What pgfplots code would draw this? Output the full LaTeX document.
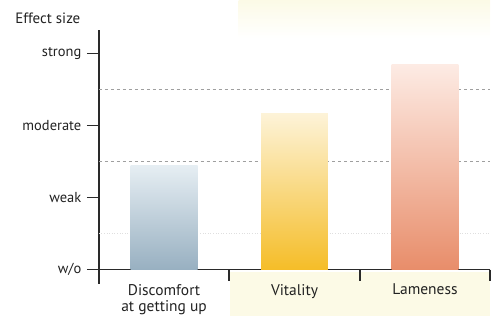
\documentclass[border=0pt]{standalone}
\usepackage{pgfplots}
\pgfplotsset{compat=1.18}
\usepackage{fontspec}
\setmainfont{PT Sans}
\definecolor{txt}{HTML}{222222}
\definecolor{axc}{HTML}{2A2A2A}
\definecolor{cream}{HTML}{FCFAE6}
\definecolor{blueT}{HTML}{E6EEF3}
\definecolor{blueB}{HTML}{98B0C1}
\definecolor{yelT}{HTML}{FDF3D8}
\definecolor{yelB}{HTML}{F5BD28}
\definecolor{redT}{HTML}{FDEBE4}
\definecolor{redB}{HTML}{E88D6A}
\begin{document}
\begin{tikzpicture}
% paper tint
\fill[cream] (131pt,-47pt) rectangle (392pt,-2pt);
\shade[top color=cream, bottom color=white] (140pt,232pt) rectangle (392pt,270pt);
\begin{axis}[
  scale only axis,
  width=392pt, height=240pt,
  xmin=0, xmax=3, ymin=0, ymax=3.33,
  axis x line=bottom, axis y line=left,
  axis line style={-, draw=axc, line width=1.6pt},
  clip=false,
  xtick={0.5,1.5,2.5},
  xticklabels={{Discomfort\\at getting up},{Vitality},{Lameness}},
  xticklabel style={align=center, font=\fontsize{15.5}{16}\selectfont, text=txt, yshift=1pt},
  xtick style={draw=none},
  ytick={0,1,2,3},
  yticklabels={w/o,weak,moderate,strong},
  yticklabel style={font=\fontsize{14.5}{15}\selectfont, text=txt, xshift=-2pt},
  ytick style={draw=axc, line width=1.6pt},
  tick align=outside,
  major tick length=12pt,
  ylabel={Effect size},
  ylabel style={rotate=-90, at={(axis description cs:0,1)}, anchor=south east, xshift=-15pt, yshift=3pt, font=\fontsize{15}{16}\selectfont, text=txt},
]
\addplot[gray!75, dashed, line width=0.6pt, forget plot] coordinates {(0,2.5) (3,2.5)};
\addplot[gray!75, dashed, line width=0.6pt, forget plot] coordinates {(0,1.5) (3,1.5)};
\addplot[gray!25, dotted, line width=0.6pt, forget plot] coordinates {(0,0.5) (3,0.5)};
\addplot[ybar, bar width=67pt, bar shift=0pt, draw=none, top color=blueT, bottom color=blueB] coordinates {(0.5,1.45)};
\addplot[ybar, bar width=67pt, bar shift=0pt, draw=none, top color=yelT, bottom color=yelB] coordinates {(1.5,2.17)};
\addplot[ybar, bar width=67pt, bar shift=0pt, draw=none, top color=redT, bottom color=redB] coordinates {(2.5,2.85)};
\draw[axc, line width=1.6pt] (axis cs:0,0) -- (axis cs:0,-0.2);
\draw[axc, line width=1.6pt] (axis cs:1,0) -- (axis cs:1,-0.165);
\draw[axc, line width=1.6pt] (axis cs:2,0) -- (axis cs:2,-0.165);
\draw[axc, line width=1.6pt] (axis cs:3,0) -- (axis cs:3,-0.165);
\end{axis}
\path[use as bounding box] (-99pt,-47pt) rectangle (392pt,270pt);
\end{tikzpicture}
\end{document}
